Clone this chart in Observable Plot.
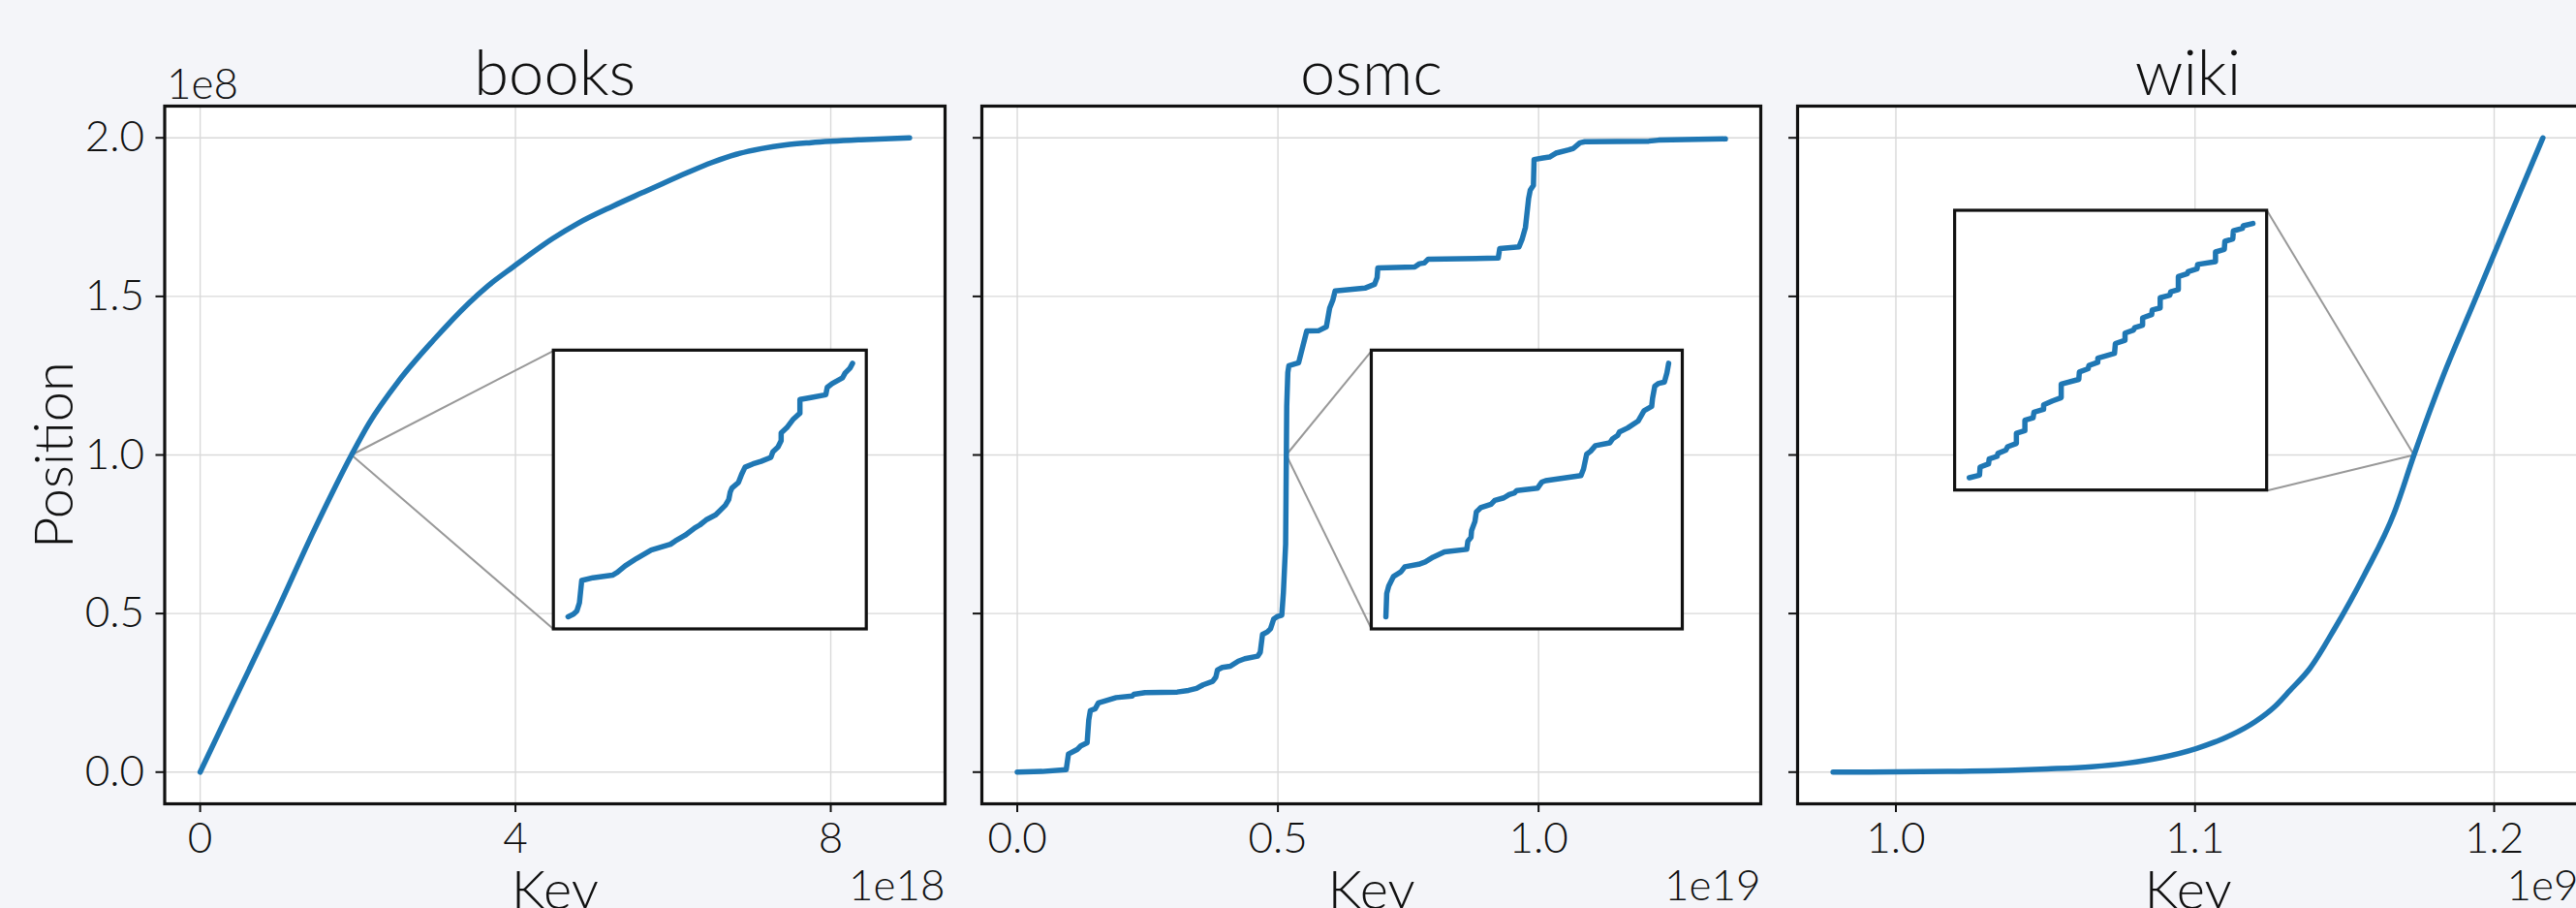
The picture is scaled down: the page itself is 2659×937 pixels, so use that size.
<!DOCTYPE html>
<html>
<head>
<meta charset="utf-8">
<script src="https://cdn.jsdelivr.net/npm/d3@7"></script>
<script src="https://cdn.jsdelivr.net/npm/@observablehq/plot@0.6"></script>
<style>
  html, body { margin: 0; padding: 0; background: #f4f5f9; overflow: hidden; }
  #root { position: relative; width: 2659px; height: 937px; overflow: hidden; background: #f4f5f9; }
  #root svg { position: absolute; top: 0; }
</style>
</head>
<body>
<div id="root"></div>
<script>
// ---------------- DATA ----------------
const titles = ["books", "osmc", "wiki"];
const xLabel = "Key";
const yLabel = "Position";
const yOffsetLabel = "1e8";
const xOffsetLabels = ["1e18", "1e19", "1e9"];

// y values in units of 1e8
const yTicks = [0, 0.5, 1.0, 1.5, 2.0];

// books: key ×1e18, position ×1e8
const booksKey = [0, 0.45, 0.96, 1.45, 1.92, 2.14, 2.52, 2.96, 3.40, 3.65, 3.97, 4.47, 4.79, 5.23, 5.61, 5.86, 6.17, 6.49, 6.80, 7.12, 7.43, 7.75, 8.38, 9.00];
const booksPos = [0, 0.235, 0.50, 0.765, 1.0, 1.099, 1.234, 1.362, 1.477, 1.533, 1.593, 1.682, 1.730, 1.784, 1.827, 1.855, 1.889, 1.922, 1.948, 1.966, 1.978, 1.985, 1.994, 2.0];
const booksXTicks = [0, 4, 8];

// osmc: key ×1e19, position ×1e8
const osmcKey = [0, 0.0476, 0.0939, 0.0982, 0.1155, 0.1217, 0.1340, 0.1371, 0.1402, 0.1495, 0.1556, 0.1896, 0.2204, 0.2235, 0.2451, 0.3068, 0.3285, 0.3439, 0.3563, 0.3748, 0.3809, 0.3840, 0.3932, 0.4087, 0.4241, 0.4365, 0.4611, 0.4661, 0.4704, 0.4796, 0.4858, 0.4920, 0.4981, 0.5074, 0.5105, 0.5148, 0.5169, 0.5190, 0.5210, 0.5397, 0.5553, 0.5776, 0.5929, 0.5992, 0.6053, 0.6096, 0.6669, 0.6853, 0.6903, 0.6916, 0.7624, 0.7716, 0.7808, 0.7882, 0.9226, 0.9255, 0.9625, 0.9687, 0.9748, 0.9809, 0.9840, 0.9901, 0.9914, 1.0086, 1.0209, 1.0332, 1.0578, 1.0670, 1.0793, 1.0886, 1.2116, 1.2301, 1.3583];
const osmcPos = [0, 0.002, 0.008, 0.057, 0.072, 0.0825, 0.0926, 0.164, 0.194, 0.200, 0.218, 0.235, 0.240, 0.245, 0.2505, 0.2525, 0.2577, 0.2638, 0.275, 0.286, 0.2995, 0.322, 0.330, 0.334, 0.350, 0.3575, 0.3655, 0.3778, 0.434, 0.442, 0.452, 0.483, 0.490, 0.495, 0.566, 0.719, 1.1536, 1.26, 1.2815, 1.2907, 1.3912, 1.3915, 1.404, 1.4627, 1.488, 1.517, 1.526, 1.538, 1.5596, 1.590, 1.593, 1.603, 1.6054, 1.6176, 1.6207, 1.651, 1.6565, 1.6818, 1.7176, 1.809, 1.8347, 1.85, 1.9315, 1.9366, 1.9395, 1.9517, 1.962, 1.967, 1.9844, 1.9875, 1.9896, 1.9927, 1.9966];
const osmcXTicks = [0, 0.5, 1.0];

// wiki: key ×1e9, position ×1e8
const wikiKey = [0.979, 1.0174, 1.0505, 1.0655, 1.0771, 1.0887, 1.1003, 1.1119, 1.1201, 1.1268, 1.1317, 1.1384, 1.1467, 1.1566, 1.1666, 1.1732, 1.1831, 1.1931, 1.2030, 1.2163];
const wikiPos = [0, 0.002, 0.010, 0.017, 0.028, 0.046, 0.074, 0.116, 0.159, 0.208, 0.257, 0.327, 0.453, 0.622, 0.818, 1.0, 1.253, 1.478, 1.702, 2.0];
const wikiXTicks = [1.0, 1.1, 1.2];

// zoomed point (key, position) and inset box extents in data units
const booksZoom = [1.92, 1.0];
const osmcZoom = [0.516, 1.0];
const wikiZoom = [1.1732, 1.0];
const booksBox = [4.487, 8.457, 0.450, 1.329];   // x1, x2, y1, y2
const osmcBox = [0.680, 1.2766, 0.450, 1.329];
const wikiBox = [1.0198, 1.1241, 0.888, 1.770];

// inset curves (local zoomed window, 0..100 units)
const booksInsetX = [0, 1.9, 3.1, 4.0, 4.8, 8.8, 15.6, 17.3, 20.1, 24.1, 29.2, 36.0, 37.7, 41.1, 44.5, 46.3, 48.5, 51.9, 55.3, 56.5, 57.0, 57.6, 59.9, 61.0, 62.2, 65.0, 67.8, 71.3, 72.0, 73.8, 74.9, 74.9, 76.9, 79.2, 81.5, 81.5, 84.9, 90.6, 91.1, 92.8, 96.5, 97.4, 99.1, 100];
const booksInsetY = [0, 1.0, 2.3, 5.5, 14.3, 15.4, 16.4, 17.5, 20.1, 23.0, 26.3, 28.6, 29.9, 32.1, 35.0, 36.2, 38.2, 40.2, 44.0, 46.3, 49.2, 50.8, 53.0, 56.2, 59.0, 60.3, 61.3, 62.9, 65.1, 67.0, 69.5, 72.5, 74.6, 78.0, 80.3, 85.7, 86.4, 87.6, 90.5, 92.0, 94.3, 96.2, 98.1, 100];

const osmcInsetX = [0, 0.3, 1.0, 2.7, 5.3, 6.7, 11.6, 13.9, 16.7, 20.7, 28.6, 29.0, 30.1, 30.3, 31.5, 32.0, 33.5, 37.2, 38.5, 41.7, 43.6, 45.5, 46.3, 53.6, 55.1, 56.5, 69.0, 69.9, 71.0, 72.4, 74.1, 79.2, 80.1, 82.0, 82.6, 85.5, 89.2, 91.3, 94.0, 94.3, 95.1, 96.5, 98.5, 99.4, 100];
const osmcInsetY = [0, 9.2, 12.1, 15.9, 17.7, 19.7, 20.7, 21.6, 23.5, 25.6, 26.6, 29.8, 31.3, 34.0, 37.6, 41.4, 43.0, 44.4, 45.9, 46.9, 48.2, 48.9, 49.8, 50.7, 53.1, 53.7, 55.7, 58.3, 64.1, 65.3, 67.5, 68.6, 70.1, 71.6, 72.9, 74.5, 77.2, 81.3, 83.0, 86.1, 91.0, 92.1, 92.6, 96.2, 100];

const wikiInsetX = [0, 3.6, 3.8, 6.8, 7.0, 9.8, 10.1, 12.9, 13.5, 16.6, 16.6, 19.6, 19.6, 22.5, 22.8, 26.2, 26.2, 29.3, 32.4, 32.4, 38.6, 38.8, 41.9, 42.2, 45.3, 45.3, 51.2, 51.5, 54.9, 54.9, 57.9, 58.3, 61.1, 61.1, 64.3, 64.5, 67.3, 67.3, 70.7, 71.0, 73.7, 73.7, 76.9, 77.1, 80.3, 80.5, 86.8, 86.8, 89.9, 90.1, 92.9, 93.1, 96.3, 96.6, 100];
const wikiInsetY = [0, 1.0, 4.2, 5.5, 7.4, 8.4, 9.6, 10.9, 12.2, 13.5, 17.5, 18.5, 22.6, 23.6, 25.8, 26.9, 28.7, 30.2, 31.5, 36.8, 38.7, 41.6, 42.9, 44.2, 45.4, 47.0, 48.9, 52.8, 54.1, 56.9, 58.1, 59.0, 60.0, 62.9, 64.2, 66.0, 66.8, 70.8, 71.8, 73.1, 74.0, 79.1, 80.3, 81.0, 82.2, 83.9, 85.0, 88.8, 89.8, 93.0, 93.9, 97.1, 98.1, 99.1, 100];

// ---------------- STYLE ----------------
const BLUE = "#1f77b4";
const INK = "#111111";
const GRID = "#d9d9d9";
const FONT = "Lato";

function pad(lo, hi) { const m = (hi - lo) * 0.05; return [lo - m, hi + m]; }

function panel(o) {
  const xDom = pad(d3.min(o.keys), d3.max(o.keys));
  const yDom = pad(0, 2.0);
  const [bx1, bx2, by1, by2] = o.box;
  const lx = pad(0, 100), ly = pad(0, 100);
  const mapX = v => bx1 + (v - lx[0]) / (lx[1] - lx[0]) * (bx2 - bx1);
  const mapY = v => by1 + (v - ly[0]) / (ly[1] - ly[0]) * (by2 - by1);
  const main = o.keys.map((k, i) => ({k, p: o.pos[i]}));
  const inset = o.insetX.map((x, i) => ({x: mapX(x), y: mapY(o.insetY[i])}));
  const cx = o.connectRight ? bx2 : bx1;
  const corners = [{x: cx, y: by1}, {x: cx, y: by2}];

  const marks = [
    Plot.frame({fill: "white", stroke: "none"}),
    Plot.ruleX(o.xTicks, {stroke: GRID, strokeWidth: 1.4}),
    Plot.ruleY(yTicks, {stroke: GRID, strokeWidth: 1.4}),
    Plot.axisX({ticks: o.xTicks, tickFormat: o.xFmt, tickSize: 9, tickPadding: 10, fontSize: 44, strokeWidth: 2, stroke: INK, fill: INK, label: null}),
    Plot.axisY({ticks: yTicks, tickFormat: o.showY ? (d => d.toFixed(1)) : (() => ""), tickSize: 9, tickPadding: 12, fontSize: 44, strokeWidth: 2, stroke: INK, fill: INK, label: null}),
    Plot.link(corners, {x1: () => o.zoom[0], y1: () => o.zoom[1], x2: "x", y2: "y", stroke: "#999999", strokeWidth: 2}),
    Plot.rect([o.box], {x1: d => d[0], x2: d => d[1], y1: d => d[2], y2: d => d[3], fill: "white", stroke: INK, strokeWidth: 3.2}),
    Plot.line(inset, {x: "x", y: "y", stroke: BLUE, strokeWidth: 5.5}),
    Plot.line(main, {x: "k", y: "p", stroke: BLUE, strokeWidth: 5.5, curve: o.curve}),
    Plot.frame({stroke: INK, strokeWidth: 3.2}),
    Plot.text([o.title], {text: d => d, frameAnchor: "top", lineAnchor: "bottom", dy: -11.6, fontSize: 65, fontWeight: 300, fill: INK}),
    Plot.text([xLabel], {text: d => d, frameAnchor: "bottom", lineAnchor: "bottom", dy: 108, fontSize: 56, fontWeight: 300, fill: INK}),
    Plot.text([o.xOffset], {text: d => d, frameAnchor: "bottom-right", textAnchor: "end", lineAnchor: "bottom", dy: 99, fontSize: 44, fontWeight: 300, fill: INK})
  ];
  if (o.showY) {
    marks.push(Plot.text([yOffsetLabel], {text: d => d, frameAnchor: "top-left", textAnchor: "start", lineAnchor: "bottom", dx: 2, dy: -7.3, fontSize: 44, fontWeight: 300, fill: INK}));
    marks.push(Plot.text([yLabel], {text: d => d, frameAnchor: "left", textAnchor: "middle", rotate: -90, lineAnchor: "bottom", dx: -95, fontSize: 56, fontWeight: 300, fill: INK}));
  }
  const svg = Plot.plot({
    width: o.width,
    height: 937,
    marginLeft: o.mL,
    marginRight: o.mR,
    marginTop: 109,
    marginBottom: 108,
    x: {domain: xDom},
    y: {domain: yDom},
    style: {fontFamily: FONT, fontWeight: 300, fontSize: "44px", color: INK, background: "none", overflow: "visible"},
    marks
  });
  svg.style.position = "absolute";
  svg.style.left = o.left + "px";
  svg.style.top = "0px";
  return svg;
}

const root = document.getElementById("root");
root.appendChild(panel({title: titles[0], keys: booksKey, pos: booksPos, curve: "monotone-x", xTicks: booksXTicks, xFmt: d => String(d), xOffset: xOffsetLabels[0], zoom: booksZoom, box: booksBox, insetX: booksInsetX, insetY: booksInsetY, connectRight: false, showY: true, left: 0, width: 1000, mL: 169.5, mR: 25}));
root.appendChild(panel({title: titles[1], keys: osmcKey, pos: osmcPos, curve: "linear", xTicks: osmcXTicks, xFmt: d => d.toFixed(1), xOffset: xOffsetLabels[1], zoom: osmcZoom, box: osmcBox, insetX: osmcInsetX, insetY: osmcInsetY, connectRight: false, showY: false, left: 990, width: 850, mL: 23, mR: 23}));
root.appendChild(panel({title: titles[2], keys: wikiKey, pos: wikiPos, curve: "monotone-x", xTicks: wikiXTicks, xFmt: d => d.toFixed(1), xOffset: xOffsetLabels[2], zoom: wikiZoom, box: wikiBox, insetX: wikiInsetX, insetY: wikiInsetY, connectRight: true, showY: false, left: 1832, width: 839, mL: 23, mR: 10}));
</script>
</body>
</html>
